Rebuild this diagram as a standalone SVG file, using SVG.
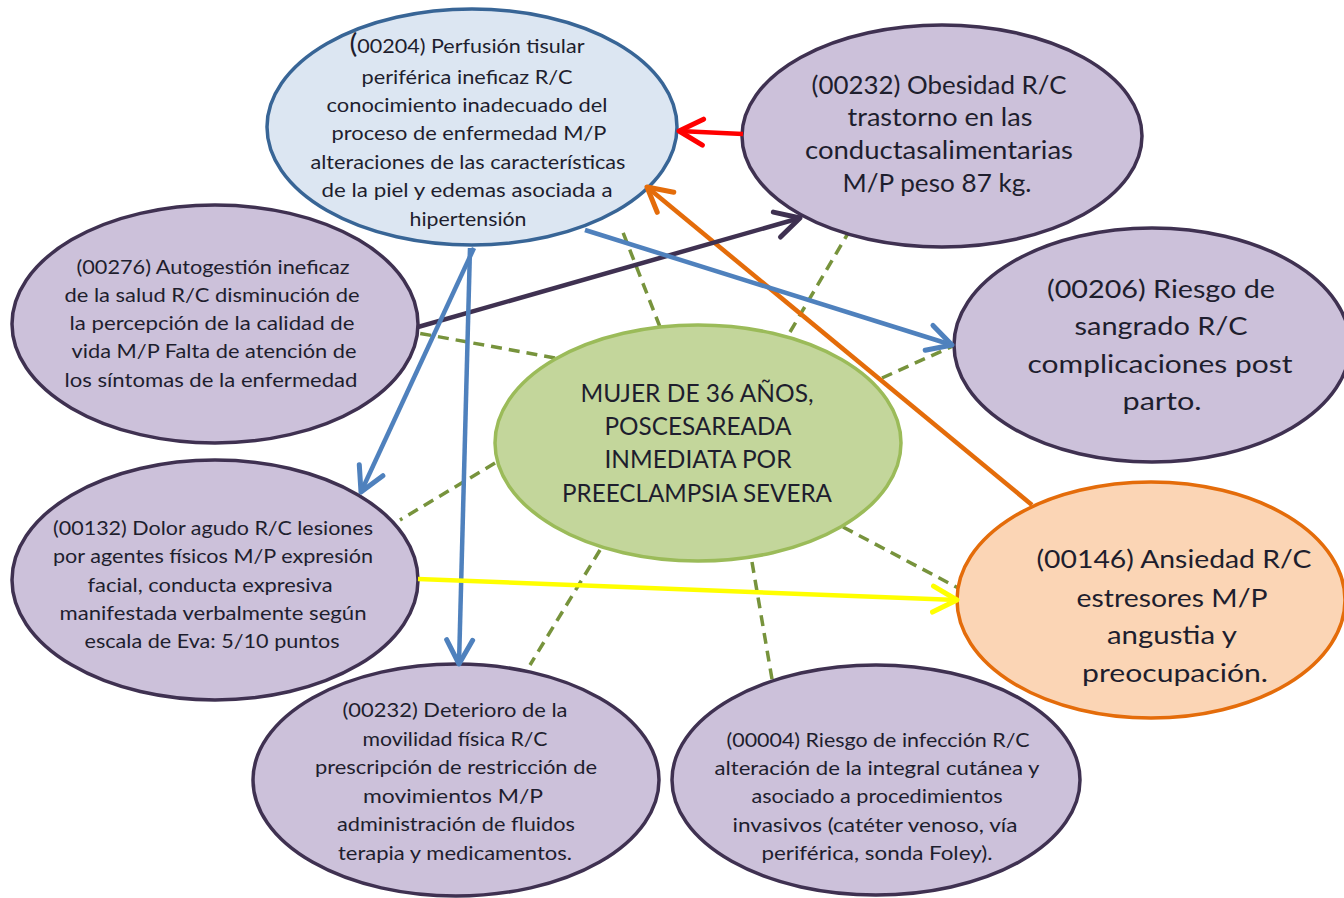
<svg xmlns="http://www.w3.org/2000/svg" width="1344" height="898" viewBox="0 0 1344 898">
<style>
text{font-family:Lato,"Open Sans","Liberation Sans",sans-serif;fill:#1e1e2e;text-anchor:middle;}
.s{font-size:19px;}
.b{font-size:25px;}
.p{fill:#ccc1da;stroke:#3f3151;stroke-width:3.5;}
.dash{stroke:#77933c;stroke-width:3.5;stroke-dasharray:11 7;fill:none;}
.ar{stroke-width:4.5;fill:none;}
</style>
<defs>
<marker id="mBlue" markerUnits="userSpaceOnUse" viewBox="-30 -18 34 36" refX="0" refY="0" markerWidth="34" markerHeight="36" orient="auto" overflow="visible"><path d="M-24 -13 L0 0 L-24 13" fill="none" stroke="#4f81bd" stroke-width="5" stroke-linecap="round" stroke-linejoin="round"/></marker>
<marker id="mRed" markerUnits="userSpaceOnUse" viewBox="-30 -18 34 36" refX="0" refY="0" markerWidth="34" markerHeight="36" orient="auto" overflow="visible"><path d="M-24 -13 L0 0 L-24 13" fill="none" stroke="#ff0000" stroke-width="5" stroke-linecap="round" stroke-linejoin="round"/></marker>
<marker id="mOrange" markerUnits="userSpaceOnUse" viewBox="-30 -18 34 36" refX="0" refY="0" markerWidth="34" markerHeight="36" orient="auto" overflow="visible"><path d="M-24 -13 L0 0 L-24 13" fill="none" stroke="#e46c0a" stroke-width="5" stroke-linecap="round" stroke-linejoin="round"/></marker>
<marker id="mPurple" markerUnits="userSpaceOnUse" viewBox="-30 -18 34 36" refX="0" refY="0" markerWidth="34" markerHeight="36" orient="auto" overflow="visible"><path d="M-24 -13 L0 0 L-24 13" fill="none" stroke="#3f3151" stroke-width="5" stroke-linecap="round" stroke-linejoin="round"/></marker>
<marker id="mYellow" markerUnits="userSpaceOnUse" viewBox="-30 -18 34 36" refX="0" refY="0" markerWidth="34" markerHeight="36" orient="auto" overflow="visible"><path d="M-24 -13 L0 0 L-24 13" fill="none" stroke="#ffff00" stroke-width="5" stroke-linecap="round" stroke-linejoin="round"/></marker>
</defs>
<rect width="1344" height="898" fill="#ffffff"/>

<g id="connectors">
<line class="dash" x1="660" y1="327" x2="622" y2="230"/>
<line class="dash" x1="790" y1="332" x2="850" y2="230"/>
<line class="dash" x1="882" y1="378" x2="953" y2="346"/>
<line class="dash" x1="555" y1="358" x2="418" y2="333"/>
<line class="dash" x1="495" y1="463" x2="400" y2="520"/>
<line class="dash" x1="600" y1="550" x2="530" y2="665"/>
<line class="dash" x1="752" y1="562" x2="773" y2="685"/>
<line class="dash" x1="843" y1="527" x2="962" y2="590"/>
</g>

<g id="n-center"><ellipse cx="698" cy="443" rx="203" ry="118" fill="#c3d69b" stroke="#9bbb59" stroke-width="3.5"/>
<text class="b" x="697" y="402" textLength="233" lengthAdjust="spacingAndGlyphs">MUJER DE 36 AÑOS,</text>
<text class="b" x="698" y="435" textLength="187" lengthAdjust="spacingAndGlyphs">POSCESAREADA</text>
<text class="b" x="698" y="468" textLength="187" lengthAdjust="spacingAndGlyphs">INMEDIATA POR</text>
<text class="b" x="697" y="502" textLength="270" lengthAdjust="spacingAndGlyphs">PREECLAMPSIA SEVERA</text>
</g>

<g id="n-00204"><ellipse cx="472" cy="127" rx="205" ry="118" fill="#dce6f2" stroke="#386596" stroke-width="3.5"/>
<text class="s" x="467" y="53" textLength="235" lengthAdjust="spacingAndGlyphs"><tspan font-size="26">(</tspan>00204) Perfusión  tisular</text>
<text class="s" x="467" y="84" textLength="211" lengthAdjust="spacingAndGlyphs">periférica  ineficaz R/C</text>
<text class="s" x="467" y="112" textLength="281" lengthAdjust="spacingAndGlyphs">conocimiento  inadecuado del</text>
<text class="s" x="469" y="140" textLength="275" lengthAdjust="spacingAndGlyphs">proceso  de enfermedad  M/P</text>
<text class="s" x="468" y="169" textLength="315" lengthAdjust="spacingAndGlyphs">alteraciones  de las características</text>
<text class="s" x="467" y="197" textLength="291" lengthAdjust="spacingAndGlyphs">de la piel y edemas asociada  a</text>
<text class="s" x="468" y="226" textLength="117" lengthAdjust="spacingAndGlyphs">hipertensión</text>
</g>

<g id="n-00232a"><ellipse cx="942" cy="136" rx="200" ry="111" class="p"/>
<text class="b" x="939" y="94" textLength="255" lengthAdjust="spacingAndGlyphs">(00232) Obesidad R/C</text>
<text class="b" x="940" y="126" textLength="185" lengthAdjust="spacingAndGlyphs">trastorno en las</text>
<text class="b" x="939" y="159" textLength="268" lengthAdjust="spacingAndGlyphs">conductasalimentarias</text>
<text class="b" x="937" y="192" textLength="189" lengthAdjust="spacingAndGlyphs">M/P peso 87 kg.</text>
</g>

<g id="n-00206"><ellipse cx="1152" cy="345" rx="198" ry="117" class="p"/>
<text class="b" x="1161" y="298" textLength="228" lengthAdjust="spacingAndGlyphs">(00206) Riesgo de</text>
<text class="b" x="1161" y="335" textLength="173" lengthAdjust="spacingAndGlyphs">sangrado R/C</text>
<text class="b" x="1160" y="373" textLength="265" lengthAdjust="spacingAndGlyphs">complicaciones post</text>
<text class="b" x="1162" y="410" textLength="79" lengthAdjust="spacingAndGlyphs">parto.</text>
</g>

<g id="n-00276"><ellipse cx="215" cy="324" rx="203" ry="119" class="p"/>
<text class="s" x="213" y="274" textLength="273" lengthAdjust="spacingAndGlyphs">(00276) Autogestión ineficaz</text>
<text class="s" x="212" y="302" textLength="295" lengthAdjust="spacingAndGlyphs">de la salud R/C disminución  de</text>
<text class="s" x="212" y="330" textLength="285" lengthAdjust="spacingAndGlyphs">la percepción  de la calidad de</text>
<text class="s" x="214" y="358" textLength="285" lengthAdjust="spacingAndGlyphs">vida M/P Falta de atención  de</text>
<text class="s" x="211" y="387" textLength="293" lengthAdjust="spacingAndGlyphs">los síntomas de la enfermedad</text>
</g>

<g id="n-00132"><ellipse cx="215" cy="580" rx="203" ry="120" class="p"/>
<text class="s" x="213" y="535" textLength="320" lengthAdjust="spacingAndGlyphs">(00132) Dolor  agudo R/C lesiones</text>
<text class="s" x="213" y="563" textLength="320" lengthAdjust="spacingAndGlyphs">por agentes físicos  M/P expresión</text>
<text class="s" x="210" y="592" textLength="245" lengthAdjust="spacingAndGlyphs">facial, conducta  expresiva</text>
<text class="s" x="213" y="620" textLength="307" lengthAdjust="spacingAndGlyphs">manifestada verbalmente  según</text>
<text class="s" x="212" y="648" textLength="255" lengthAdjust="spacingAndGlyphs">escala de  Eva: 5/10 puntos</text>
</g>

<g id="n-00232b"><ellipse cx="456" cy="780" rx="203" ry="116" class="p"/>
<text class="s" x="455" y="717" textLength="225" lengthAdjust="spacingAndGlyphs">(00232) Deterioro  de la</text>
<text class="s" x="455" y="746" textLength="185" lengthAdjust="spacingAndGlyphs">movilidad física R/C</text>
<text class="s" x="456" y="774" textLength="282" lengthAdjust="spacingAndGlyphs">prescripción  de restricción  de</text>
<text class="s" x="453" y="803" textLength="180" lengthAdjust="spacingAndGlyphs">movimientos M/P</text>
<text class="s" x="456" y="831" textLength="238" lengthAdjust="spacingAndGlyphs">administración  de fluidos</text>
<text class="s" x="455" y="860" textLength="234" lengthAdjust="spacingAndGlyphs">terapia y medicamentos.</text>
</g>

<g id="n-00004"><ellipse cx="876" cy="780" rx="204" ry="115" class="p"/>
<text class="s" x="878" y="747" textLength="303" lengthAdjust="spacingAndGlyphs">(00004) Riesgo de infección  R/C</text>
<text class="s" x="877" y="775" textLength="325" lengthAdjust="spacingAndGlyphs">alteración  de la integral cutánea y</text>
<text class="s" x="877" y="803" textLength="251" lengthAdjust="spacingAndGlyphs">asociado a procedimientos</text>
<text class="s" x="875" y="832" textLength="285" lengthAdjust="spacingAndGlyphs">invasivos (catéter venoso, vía</text>
<text class="s" x="877" y="860" textLength="231" lengthAdjust="spacingAndGlyphs">periférica,  sonda  Foley).</text>
</g>

<g id="n-00146"><ellipse cx="1151" cy="600" rx="194" ry="118" fill="#fbd5b5" stroke="#e46c0a" stroke-width="3.5"/>
<text class="b" x="1174" y="568" textLength="275" lengthAdjust="spacingAndGlyphs">(00146) Ansiedad R/C</text>
<text class="b" x="1172" y="607" textLength="191" lengthAdjust="spacingAndGlyphs">estresores M/P</text>
<text class="b" x="1172" y="644" textLength="130" lengthAdjust="spacingAndGlyphs">angustia y</text>
<text class="b" x="1175" y="682" textLength="186" lengthAdjust="spacingAndGlyphs">preocupación.</text>
</g>

<g id="arrows">
<line class="ar" stroke="#ff0000" x1="743" y1="134" x2="679" y2="131" marker-end="url(#mRed)"/>
<line class="ar" stroke="#e46c0a" x1="1032" y1="505" x2="647" y2="187" marker-end="url(#mOrange)"/>
<line class="ar" stroke="#3f3151" x1="418" y1="327" x2="800" y2="218" marker-end="url(#mPurple)"/>
<line class="ar" stroke="#4f81bd" x1="585" y1="230" x2="952" y2="345" marker-end="url(#mBlue)"/>
<line class="ar" stroke="#4f81bd" x1="474" y1="248" x2="361" y2="492" marker-end="url(#mBlue)"/>
<line class="ar" stroke="#4f81bd" x1="470" y1="248" x2="459" y2="664" marker-end="url(#mBlue)"/>
<line class="ar" stroke="#ffff00" x1="418" y1="579" x2="957" y2="600" marker-end="url(#mYellow)"/>
</g>
</svg>
